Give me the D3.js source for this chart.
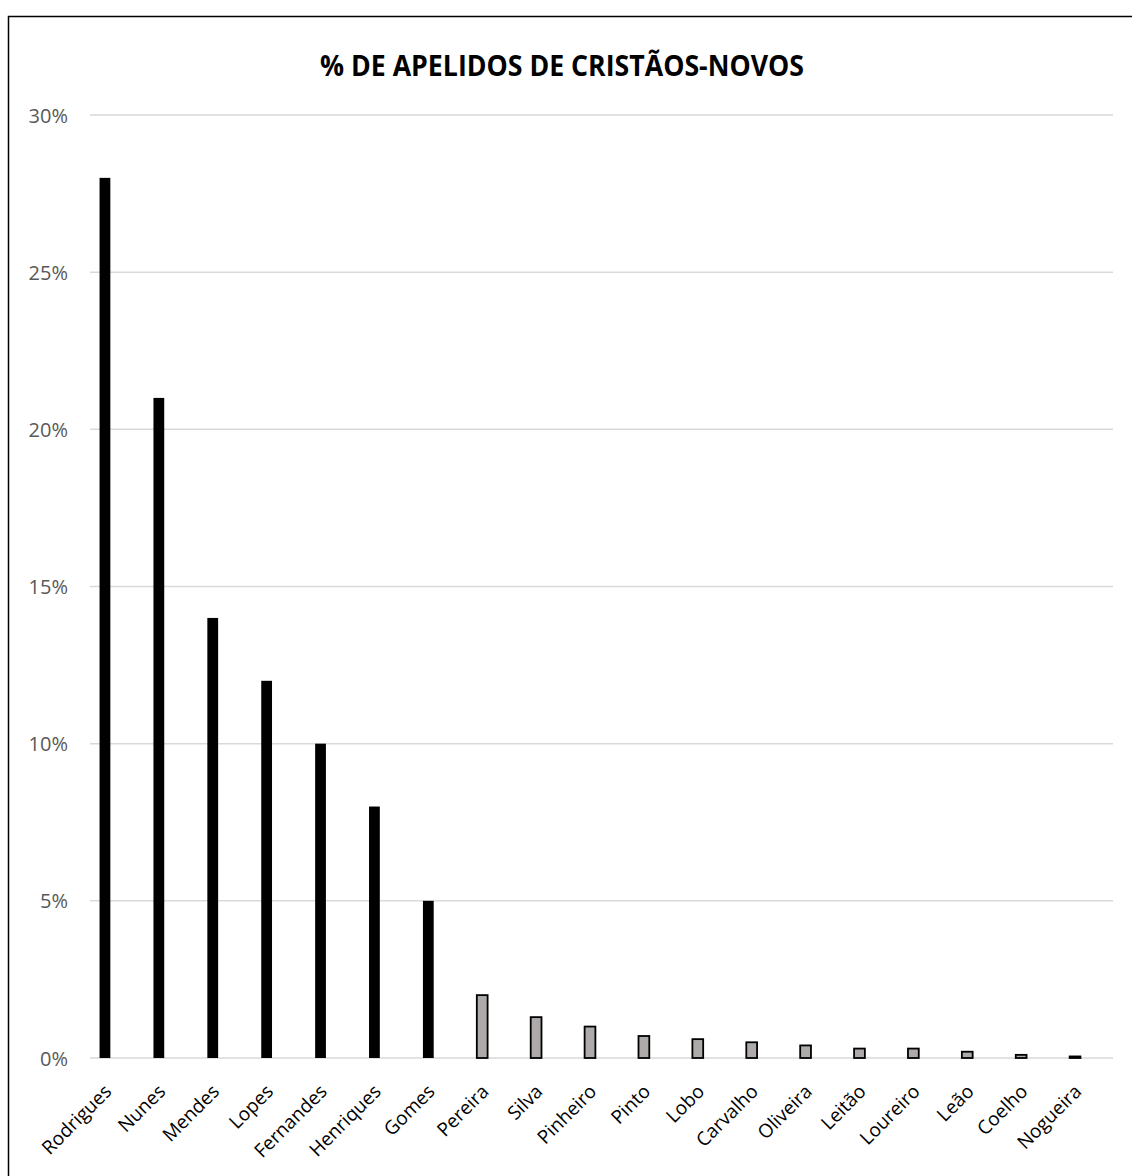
<!DOCTYPE html>
<html>
<head>
<meta charset="utf-8">
<script src="https://cdn.jsdelivr.net/npm/d3@7"></script>
<style>
  body { margin: 0; background: #fff; }
  svg { display: block; }
</style>
</head>
<body>
<svg width="1132" height="1176"></svg>
<script>
// data
const surnames = ["Rodrigues", "Nunes", "Mendes", "Lopes", "Fernandes", "Henriques", "Gomes",
  "Pereira", "Silva", "Pinheiro", "Pinto", "Lobo", "Carvalho", "Oliveira", "Leitão",
  "Loureiro", "Leão", "Coelho", "Nogueira"];
const shares = [28, 21, 14, 12, 10, 8, 5, 2, 1.3, 1.0, 0.7, 0.6, 0.5, 0.4, 0.3, 0.3, 0.2, 0.1, 0.05];
const mainGroup = ["Rodrigues", "Nunes", "Mendes", "Lopes", "Fernandes", "Henriques", "Gomes"];
const yTicks = [0, 5, 10, 15, 20, 25, 30];

const svg = d3.select("svg");
const font = "'Open Sans', 'DejaVu Sans', sans-serif";

const plot = {top: 115, bottom: 1058, left: 90, right: 1113};

// chart frame (runs off the right/bottom of the window)
svg.append("rect")
    .attr("x", 8.5).attr("y", 16.5)
    .attr("width", 1400).attr("height", 1400)
    .attr("fill", "none")
    .attr("stroke", "#000")
    .attr("stroke-width", 1.5);

svg.append("text")
    .attr("x", 562)
    .attr("y", 76)
    .attr("text-anchor", "middle")
    .attr("textLength", 484)
    .attr("lengthAdjust", "spacingAndGlyphs")
    .style("font-family", font)
    .style("font-size", "29px")
    .style("font-weight", "bold")
    .attr("fill", "#000")
    .text("% DE APELIDOS DE CRISTÃOS-NOVOS");

const x = d3.scaleBand().domain(surnames).range([78, 1102]).paddingInner(0.8).paddingOuter(0.4);
const y = d3.scaleLinear().domain([0, 30]).range([plot.bottom, plot.top]);

// gridlines
svg.append("g")
  .selectAll("line")
  .data(yTicks)
  .join("line")
    .attr("x1", plot.left)
    .attr("x2", plot.right)
    .attr("y1", d => y(d))
    .attr("y2", d => y(d))
    .attr("stroke", "#d9d9d9")
    .attr("stroke-width", 1.5);

// y axis labels
const yAxis = svg.append("g")
    .attr("transform", `translate(${plot.left - 22},0)`)
    .call(d3.axisLeft(y).tickValues(yTicks).tickSize(0).tickFormat(d => d + "%"));
yAxis.select(".domain").remove();
yAxis.selectAll("text")
    .attr("x", 0)
    .attr("dy", "0.35em")
    .style("font-family", font)
    .style("font-size", "20px")
    .attr("fill", "#595959");

// bars
svg.append("g")
  .selectAll("rect")
  .data(surnames.map((name, i) => ({name, value: shares[i]})))
  .join("rect")
    .attr("x", d => x(d.name))
    .attr("y", d => y(d.value))
    .attr("width", x.bandwidth())
    .attr("height", d => y(0) - y(d.value))
    .attr("fill", d => mainGroup.includes(d.name) ? "#000" : "#aeaaaa")
    .attr("stroke", "#000")
    .attr("stroke-width", d => mainGroup.includes(d.name) ? 0 : 1.8);

// x axis labels
const xAxis = svg.append("g")
    .attr("transform", `translate(0,${plot.bottom})`)
    .call(d3.axisBottom(x).tickSize(0));
xAxis.select(".domain").remove();
xAxis.selectAll("text")
    .attr("transform", "translate(3,30) rotate(-45)")
    .attr("x", 0)
    .attr("y", 0)
    .attr("dy", "0.35em")
    .style("text-anchor", "end")
    .style("font-family", font)
    .style("font-size", "19px")
    .attr("fill", "#000");
</script>
</body>
</html>
